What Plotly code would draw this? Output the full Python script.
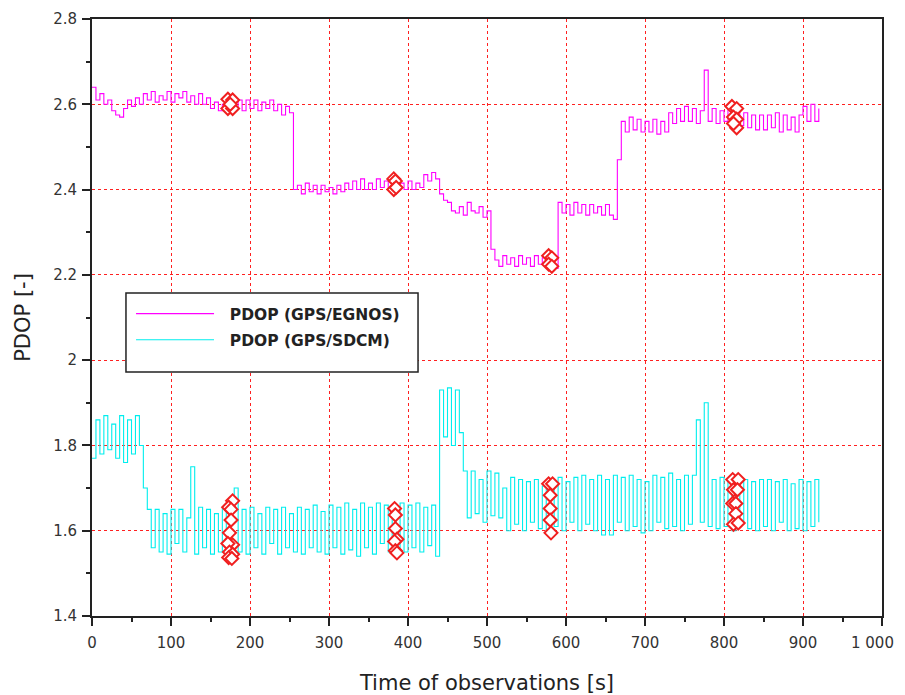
import plotly.graph_objects as go

# ---------------- data ----------------
step_s = 5

pdop_egnos = [
    2.64, 2.61, 2.625, 2.60, 2.61, 2.585, 2.575, 2.57, 2.59, 2.61,      # 0-45
    2.595, 2.615, 2.60, 2.625, 2.61, 2.63, 2.605, 2.62, 2.61, 2.63,     # 50-95
    2.605, 2.625, 2.615, 2.63, 2.605, 2.62, 2.60, 2.625, 2.60, 2.615,   # 100-145
    2.59, 2.605, 2.585, 2.60, 2.59, 2.605, 2.59, 2.61, 2.585, 2.61,     # 150-195
    2.59, 2.61, 2.585, 2.605, 2.59, 2.61, 2.585, 2.60, 2.575, 2.595,    # 200-245
    2.58, 2.40, 2.41, 2.39, 2.415, 2.395, 2.41, 2.39, 2.41, 2.395,      # 250-295
    2.405, 2.39, 2.41, 2.395, 2.415, 2.40, 2.42, 2.40, 2.425, 2.40,     # 300-345
    2.415, 2.40, 2.425, 2.405, 2.42, 2.40, 2.425, 2.40, 2.415, 2.40,    # 350-395
    2.42, 2.40, 2.415, 2.405, 2.435, 2.42, 2.44, 2.425, 2.39, 2.375,    # 400-445
    2.37, 2.35, 2.345, 2.36, 2.34, 2.37, 2.35, 2.345, 2.36, 2.335,      # 450-495
    2.35, 2.26, 2.235, 2.22, 2.245, 2.225, 2.24, 2.22, 2.245, 2.225,    # 500-545
    2.24, 2.22, 2.245, 2.225, 2.24, 2.22, 2.235, 2.215, 2.37, 2.345,    # 550-595
    2.365, 2.34, 2.37, 2.345, 2.365, 2.34, 2.365, 2.345, 2.36, 2.34,    # 600-645
    2.365, 2.34, 2.33, 2.47, 2.56, 2.535, 2.57, 2.54, 2.565, 2.535,     # 650-695
    2.56, 2.535, 2.565, 2.53, 2.56, 2.535, 2.58, 2.555, 2.59, 2.56,     # 700-745
    2.595, 2.56, 2.59, 2.555, 2.585, 2.68, 2.56, 2.59, 2.555, 2.585,    # 750-795
    2.56, 2.59, 2.56, 2.585, 2.55, 2.58, 2.545, 2.575, 2.54, 2.575,     # 800-845
    2.54, 2.575, 2.545, 2.58, 2.535, 2.575, 2.54, 2.57, 2.535, 2.575,   # 850-895
    2.595, 2.56, 2.60, 2.56, 2.59,                                       # 900-920
]

pdop_sdcm = [
    1.77, 1.86, 1.78, 1.87, 1.79, 1.85, 1.77, 1.87, 1.76, 1.86,         # 0-45
    1.78, 1.87, 1.80, 1.70, 1.65, 1.56, 1.65, 1.55, 1.64, 1.545,        # 50-95
    1.65, 1.57, 1.65, 1.55, 1.63, 1.75, 1.545, 1.655, 1.56, 1.65,       # 100-145
    1.545, 1.64, 1.55, 1.655, 1.54, 1.66, 1.70, 1.55, 1.65, 1.545,      # 150-195
    1.655, 1.56, 1.64, 1.545, 1.655, 1.57, 1.65, 1.545, 1.655, 1.56,    # 200-245
    1.64, 1.55, 1.655, 1.545, 1.65, 1.56, 1.66, 1.55, 1.645, 1.545,     # 250-295
    1.66, 1.56, 1.655, 1.545, 1.665, 1.555, 1.65, 1.54, 1.665, 1.56,    # 300-345
    1.655, 1.545, 1.665, 1.57, 1.66, 1.55, 1.655, 1.56, 1.665, 1.55,    # 350-395
    1.66, 1.56, 1.665, 1.55, 1.655, 1.565, 1.66, 1.54, 1.93, 1.82,      # 400-445
    1.935, 1.80, 1.93, 1.83, 1.74, 1.63, 1.74, 1.64, 1.72, 1.62,        # 450-495
    1.74, 1.635, 1.735, 1.63, 1.70, 1.60, 1.725, 1.615, 1.72, 1.60,     # 500-545
    1.715, 1.62, 1.72, 1.605, 1.705, 1.60, 1.72, 1.61, 1.725, 1.60,     # 550-595
    1.715, 1.62, 1.725, 1.60, 1.73, 1.615, 1.72, 1.60, 1.73, 1.59,      # 600-645
    1.72, 1.59, 1.73, 1.62, 1.725, 1.60, 1.73, 1.61, 1.72, 1.595,       # 650-695
    1.715, 1.60, 1.73, 1.62, 1.725, 1.605, 1.735, 1.61, 1.72, 1.60,     # 700-745
    1.73, 1.615, 1.73, 1.86, 1.62, 1.90, 1.61, 1.72, 1.605, 1.725,      # 750-795
    1.61, 1.72, 1.60, 1.725, 1.615, 1.72, 1.605, 1.715, 1.60, 1.72,     # 800-845
    1.61, 1.72, 1.60, 1.715, 1.62, 1.72, 1.60, 1.71, 1.605, 1.72,       # 850-895
    1.60, 1.715, 1.61, 1.72, 1.62,                                       # 900-920
]

time_egnos = [i * step_s for i in range(len(pdop_egnos))]
time_sdcm = [i * step_s for i in range(len(pdop_sdcm))]

# highlighted epochs (open red diamonds)
mark_egnos_t = [172, 178, 172, 178, 175,
                382, 384, 382, 385,
                578, 582, 578, 582,
                810, 816, 812, 816, 816, 812]
mark_egnos_v = [2.612, 2.61, 2.59, 2.59, 2.60,
                2.425, 2.42, 2.40, 2.405,
                2.245, 2.24, 2.225, 2.22,
                2.595, 2.59, 2.57, 2.565, 2.545, 2.555]

mark_sdcm_t = [178, 173, 176, 176, 174, 178, 172, 174, 178, 173, 177,
               383, 384, 384, 386, 383, 384, 386,
               578, 583, 580, 580, 580, 581,
               811, 818, 812, 817, 811, 815, 815, 812, 818]
mark_sdcm_v = [1.67, 1.655, 1.65, 1.625, 1.595, 1.567, 1.57, 1.55, 1.545, 1.537, 1.535,
               1.652, 1.637, 1.605, 1.58, 1.575, 1.553, 1.548,
               1.71, 1.71, 1.683, 1.652, 1.625, 1.595,
               1.72, 1.72, 1.696, 1.696, 1.664, 1.664, 1.64, 1.615, 1.618]

x_tickvals = [0, 100, 200, 300, 400, 500, 600, 700, 800, 900, 1000]
x_ticktext = ["0", "100", "200", "300", "400", "500", "600", "700", "800", "900", "1 000"]
y_tickvals = [1.4, 1.6, 1.8, 2.0, 2.2, 2.4, 2.6, 2.8]
y_ticktext = ["1.4", "1.6", "1.8", "2", "2.2", "2.4", "2.6", "2.8"]

series_names = ["PDOP (GPS/EGNOS)", "PDOP (GPS/SDCM)"]

# ---------------- figure ----------------
FONT = "DejaVu Sans, Verdana, sans-serif"
NB = "\u00a0"
fig = go.Figure()

fig.add_trace(go.Scatter(x=time_egnos, y=pdop_egnos, mode="lines",
                         name=NB * 2 + series_names[0] + NB * 3, legendgroup="egnos",
                         line=dict(color="#ff00ff", width=1.1, shape="hv")))
fig.add_trace(go.Scatter(x=time_sdcm, y=pdop_sdcm, mode="lines",
                         name=NB * 2 + series_names[1], legendgroup="sdcm",
                         line=dict(color="#00eeee", width=1.1, shape="hv")))

marker_style = dict(symbol="diamond", size=10, color="white",
                    line=dict(color="#f02020", width=2))
fig.add_trace(go.Scatter(x=mark_egnos_t, y=mark_egnos_v, mode="markers",
                         marker=marker_style, showlegend=False))
fig.add_trace(go.Scatter(x=mark_sdcm_t, y=mark_sdcm_v, mode="markers",
                         marker=marker_style, showlegend=False))

axis_font = dict(family=FONT, size=15, color="#333333")
title_font = dict(family=FONT, size=21, color="#222222")

# the last x tick label sits at the right edge of the page: draw it as an
# annotation nudged left so that it stays fully visible
x_labels_axis = x_ticktext[:-1] + [""]

fig.update_xaxes(range=[0, 1000], tickvals=x_tickvals, ticktext=x_labels_axis,
                 showline=True, linecolor="#222222", linewidth=2, mirror=True,
                 ticks="outside", ticklen=8, tickwidth=1.5, tickcolor="#222222",
                 minor=dict(ticks="outside", ticklen=4, dtick=50, tickcolor="#222222",
                            showgrid=False),
                 showgrid=True, gridcolor="#ff2020", griddash="dot", gridwidth=1,
                 zeroline=False, tickfont=axis_font, automargin=False,
                 ticklabelstandoff=4,
                 title=dict(text="Time of observations [s]", font=title_font,
                            standoff=36))
fig.update_yaxes(range=[1.4, 2.8], tickvals=y_tickvals, ticktext=y_ticktext,
                 showline=True, linecolor="#222222", linewidth=2, mirror=True,
                 ticks="outside", ticklen=8, tickwidth=1.5, tickcolor="#222222",
                 minor=dict(ticks="outside", ticklen=4, dtick=0.1, tickcolor="#222222",
                            showgrid=False),
                 showgrid=True, gridcolor="#ff2020", griddash="dot", gridwidth=1,
                 zeroline=False, tickfont=axis_font, automargin=False,
                 ticklabelstandoff=2,
                 title=dict(text="PDOP [-]", font=title_font, standoff=17))

fig.add_annotation(x=x_tickvals[-1], xref="x", y=0, yref="paper",
                   text=x_ticktext[-1], showarrow=False, font=axis_font,
                   xanchor="right", yanchor="middle", xshift=14, yshift=-27)

# legend frame (white box with black border)
fig.add_shape(type="rect", xref="paper", yref="paper",
              x0=0.043, x1=0.4127, y0=0.4087, y1=0.541,
              fillcolor="white", line=dict(color="#222222", width=1.5), layer="above")

fig.update_layout(
    width=889, height=687,
    margin=dict(l=84, r=15, t=11, b=79),
    paper_bgcolor="white", plot_bgcolor="white",
    legend=dict(x=0.0494, y=0.5343, xanchor="left", yanchor="top",
                bgcolor="rgba(0,0,0,0)", borderwidth=0,
                itemwidth=78, traceorder="grouped", tracegroupgap=3,
                font=dict(family=FONT, size=15.5, color="#222222", weight="bold")),
)

fig.write_html("out.html")
